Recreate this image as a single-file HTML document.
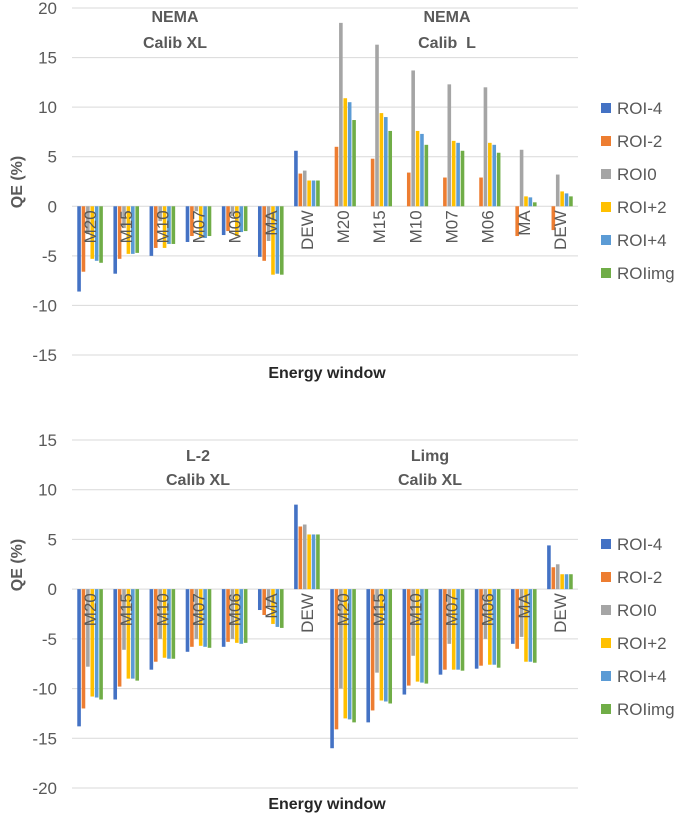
<!DOCTYPE html>
<html><head><meta charset="utf-8"><style>
body{margin:0;background:#fff;}
svg{display:block;font-family:"Liberation Sans",sans-serif;}
</style></head><body>
<svg id="chart" width="685" height="815"></svg>
<script>
const categories=["M20","M15","M10","M07","M06","MA","DEW","M20","M15","M10","M07","M06","MA","DEW"];
const seriesNames=["ROI-4","ROI-2","ROI0","ROI+2","ROI+4","ROIimg"];
const colors=["#4472c4","#ed7d31","#a5a5a5","#ffc000","#5b9bd5","#70ad47"];
const topTicks=[20,15,10,5,0,-5,-10,-15];
const bottomTicks=[15,10,5,0,-5,-10,-15,-20];
const topRoiM4=[-8.6,-6.8,-5,-3.6,-2.9,-5.1,5.6,0,0,0,0,0,0,0];
const topRoiM2=[-6.6,-5.3,-4.2,-3.0,-2.5,-5.5,3.3,6.0,4.8,3.4,2.9,2.9,-3.0,-2.4];
const topRoi0=[-2.8,-2.2,-1.5,-0.5,-1.0,-3.5,3.6,18.5,16.3,13.7,12.3,12.0,5.7,3.2];
const topRoiP2=[-5.3,-4.8,-4.2,-3.1,-3.0,-6.9,2.6,10.9,9.4,7.6,6.6,6.4,1.0,1.5];
const topRoiP4=[-5.5,-4.8,-3.8,-3.2,-2.6,-6.8,2.6,10.5,9.0,7.3,6.4,6.2,0.9,1.3];
const topRoiImg=[-5.7,-4.7,-3.8,-3.0,-2.5,-6.9,2.6,8.7,7.6,6.2,5.6,5.4,0.4,1.0];
const botRoiM4=[-13.8,-11.1,-8.1,-6.3,-5.8,-2.1,8.5,-16,-13.4,-10.6,-8.6,-8.0,-5.5,4.4];
const botRoiM2=[-12.0,-9.8,-7.3,-5.8,-5.3,-2.6,6.3,-14.1,-12.2,-9.7,-8.1,-7.7,-6.0,2.2];
const botRoi0=[-7.8,-6.1,-5.0,-5.0,-5.0,-1.7,6.5,-10.0,-8.4,-6.7,-5.5,-5.0,-4.8,2.5];
const botRoiP2=[-10.8,-9.0,-6.9,-5.7,-5.4,-3.5,5.5,-13.0,-11.2,-9.3,-8.1,-7.6,-7.3,1.5];
const botRoiP4=[-10.9,-9.0,-7.0,-5.8,-5.5,-3.8,5.5,-13.1,-11.3,-9.4,-8.1,-7.6,-7.3,1.5];
const botRoiImg=[-11.1,-9.2,-7.0,-5.9,-5.4,-3.9,5.5,-13.4,-11.5,-9.5,-8.2,-7.9,-7.4,1.5];

const svg=document.getElementById('chart');
const NS='http://www.w3.org/2000/svg';
function mk(tag,attrs,text){const e=document.createElementNS(NS,tag);for(const k in attrs)e.setAttribute(k,attrs[k]);if(text!==undefined)e.textContent=text;svg.appendChild(e);return e;}

function drawChart(p,series,ticks,name){
  const x0=72,x1=578,bw=(x1-x0)/categories.length;
  const yMax=ticks[0],yMin=ticks[ticks.length-1];
  const y=v=>p.top+(yMax-v)/(yMax-yMin)*(p.bottom-p.top);
  const xc=i=>x0+bw*(i+0.5);
  ticks.forEach(t=>{
    const g=mk('line',{x1:x0,x2:x1,y1:y(t),y2:y(t),stroke:'#d9d9d9','stroke-width':1});
    
    
    const l=mk('text',{x:57,y:y(t)+6,'text-anchor':'end','font-size':17,fill:'#595959'},String(t));
    
    
  });
  const barW=3.6,stride=4.4;
  series.forEach((s,si)=>{
    s.forEach((v,i)=>{
      const bx=xc(i)-3*stride+si*stride+0.4;
      const r=mk('rect',{x:bx,y:Math.min(y(v),y(0)),width:barW,height:Math.abs(y(v)-y(0)),fill:colors[si]});
      
      
    });
  });
  categories.forEach((c,i)=>{
    const t=mk('text',{x:0,y:0,'font-size':17,fill:'#595959','text-anchor':'end',transform:`translate(${xc(i)+6},${y(0)+4}) rotate(-90)`},c);
    
    
  });
  const yt=mk('text',{x:0,y:0,'font-size':16,'font-weight':'bold',fill:'#595959','text-anchor':'middle',transform:`translate(22,${p.ytitle}) rotate(-90)`},'QE (%)');
  
  
  const xt=mk('text',{x:327,y:p.xtitle,'font-size':16,'font-weight':'bold',fill:'#262626','text-anchor':'middle'},'Energy window');
  
  
  p.titles.forEach(tt=>{
    const a=mk('text',{x:tt[0],y:tt[1],'font-size':16,'font-weight':'bold',fill:'#595959','text-anchor':'middle',style:'white-space:pre'},tt[2]);
    
    
  });
  seriesNames.forEach((n,i)=>{
    const ly=p.legendY+i*33;
    const sq=mk('rect',{x:601,y:ly-6,width:10,height:10,fill:colors[i]});
    
    
    const lt=mk('text',{x:617,y:ly+5,'font-size':17,fill:'#595959'},n);
    
    
  });
}
drawChart({top:8,bottom:355,ytitle:182,xtitle:378,legendY:109,
  titles:[[175,22,'NEMA'],[175,48,'Calib XL'],[447,22,'NEMA'],[447,48,'Calib  L']]},
  [topRoiM4,topRoiM2,topRoi0,topRoiP2,topRoiP4,topRoiImg],topTicks,'top-chart');
drawChart({top:440,bottom:788,ytitle:565,xtitle:809,legendY:545,
  titles:[[198,461,'L-2'],[198,485,'Calib XL'],[430,461,'Limg'],[430,485,'Calib XL']]},
  [botRoiM4,botRoiM2,botRoi0,botRoiP2,botRoiP4,botRoiImg],bottomTicks,'bottom-chart');
</script>
</body></html>
